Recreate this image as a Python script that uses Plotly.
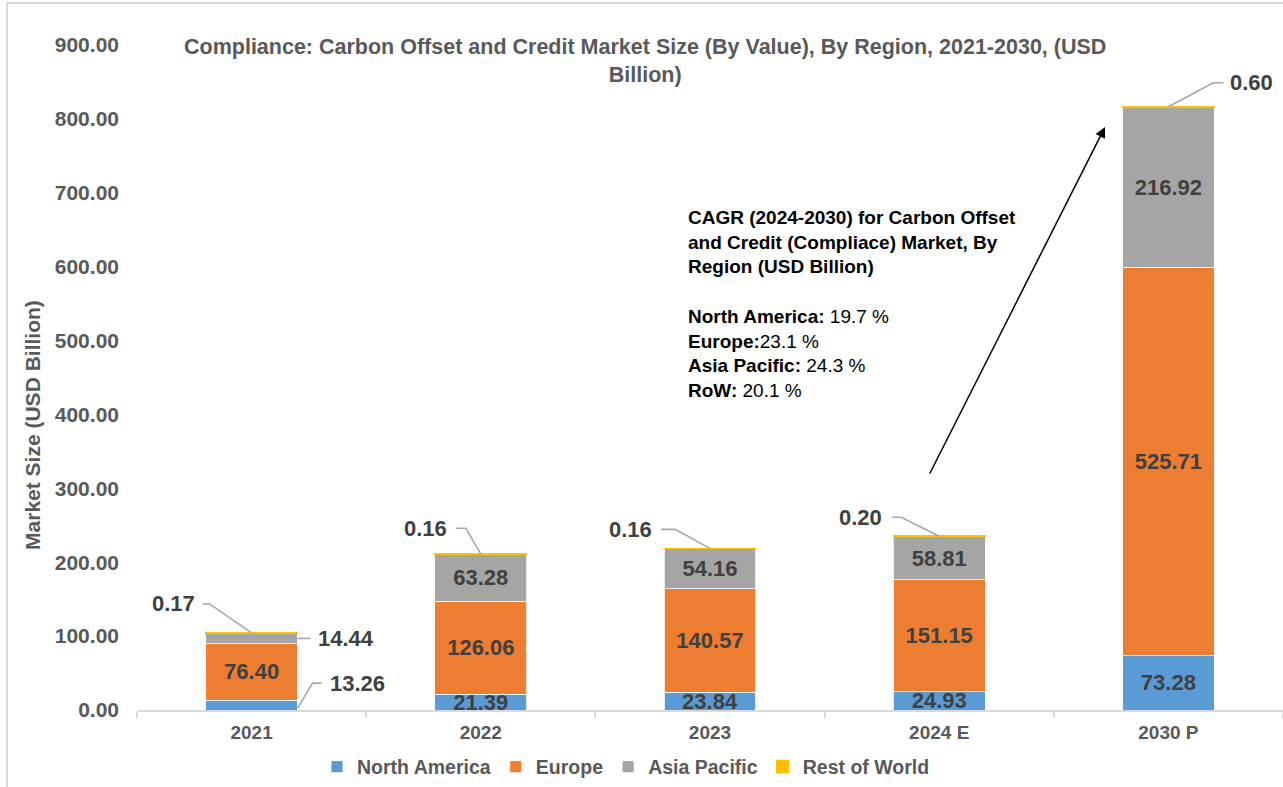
import plotly.graph_objects as go

# ---------------- data ----------------
years = ["2021", "2022", "2023", "2024 E", "2030 P"]
north_america = [13.26, 21.39, 23.84, 24.93, 73.28]
europe = [76.40, 126.06, 140.57, 151.15, 525.71]
asia_pacific = [14.44, 63.28, 54.16, 58.81, 216.92]
rest_of_world = [0.17, 0.16, 0.16, 0.20, 0.60]
series_names = ["North America", "Europe", "Asia Pacific", "Rest of World"]
y_ticks = [0, 100, 200, 300, 400, 500, 600, 700, 800, 900]

title_text = ("Compliance: Carbon Offset and Credit Market Size (By Value), By Region, 2021-2030, (USD"
              "<br>Billion)")
cagr_text = ("<b>CAGR (2024-2030) for Carbon Offset<br>and Credit (Compliace) Market, By<br>"
             "Region (USD Billion)</b><br> <br>"
             "<b>North America:</b> 19.7 %<br><b>Europe:</b>23.1 %<br>"
             "<b>Asia Pacific:</b> 24.3 %<br><b>RoW:</b> 20.1 %")

# ---------------- style ----------------
colors = ["#5B9BD5", "#ED7D31", "#A5A5A5", "#FFC000"]
outline = ["white", "white", "white", "#FFC000"]
outline_w = [0.8, 0.8, 0.8, 1.6]
FONT = "Liberation Sans, Arial, sans-serif"
GREY_TXT = "#595959"
LBL_TXT = "#404040"
LEADER = "#A6A6A6"
LBL_SIZE = 22

fig = go.Figure()

series = [north_america, europe, asia_pacific, rest_of_world]
# which points get an inside label (others are labelled outside with leader lines)
inside_flags = [
    [False, True, True, True, True],
    [True, True, True, True, True],
    [False, True, True, True, True],
    [False, False, False, False, False],
]
for name, vals, col, lc, lw, flags in zip(series_names, series, colors, outline, outline_w, inside_flags):
    fig.add_trace(go.Bar(
        name=name, x=years, y=vals,
        marker=dict(color=col, line=dict(color=lc, width=lw)),
        text=[f"{v:.2f}" if f else "" for v, f in zip(vals, flags)],
        textposition="inside", insidetextanchor="middle",
        constraintext="none", textangle=0, cliponaxis=False,
        textfont=dict(family=FONT, size=LBL_SIZE, color=LBL_TXT, weight="bold"),
        hoverinfo="skip",
    ))

totals = [a + b + c + d for a, b, c, d in zip(north_america, europe, asia_pacific, rest_of_world)]

shapes = []
annotations = []


def leader(xi, yval, path, tx, ty, txt, anchor):
    shapes.append(dict(
        type="path", xref="x", yref="y", xsizemode="pixel", ysizemode="pixel",
        xanchor=xi, yanchor=yval, path=path,
        line=dict(color=LEADER, width=1.6), layer="above",
    ))
    annotations.append(dict(
        x=xi, y=yval, xref="x", yref="y", text=txt, showarrow=False,
        xshift=tx, yshift=ty, xanchor=anchor, yanchor="middle",
        font=dict(family=FONT, size=LBL_SIZE, color=LBL_TXT, weight="bold"),
    ))


# Rest of World leaders (anchored at bar tops)
row_geom = [
    ("M 0 0 L -42 29 L -49 29", -55, 29, "right"),
    ("M 0 0 L -15 26 L -25 26", -32, 26, "right"),
    ("M 0 0 L -35 19 L -49 19", -56, 19, "right"),
    ("M 0 0 L -38 19 L -47 19", -55, 19, "right"),
    ("M 0 0 L 45 24 L 55 24", 60, 24, "left"),
]
for i, (p, tx, ty, anc) in enumerate(row_geom):
    leader(i, totals[i], p, tx, ty, f"{rest_of_world[i]:.2f}", anc)

# 2021 Asia Pacific and North America
ap_mid = north_america[0] + europe[0] + asia_pacific[0] / 2
leader(0, ap_mid, "M 46 0 L 59 0", 64, 0, f"{asia_pacific[0]:.2f}", "left")
na_mid = north_america[0] / 2
leader(0, na_mid, "M 46 -3 L 61 22 L 70 22", 76, 22, f"{north_america[0]:.2f}", "left")

# outer border
shapes.append(dict(type="rect", xref="paper", yref="paper",
                   x0=-0.1134, x1=1.02, y0=-0.3, y1=1.0632,
                   line=dict(color="#D9D9D9", width=2), layer="below"))

# title
annotations.append(dict(
    xref="paper", yref="paper", x=0.4433, y=1.0175, xanchor="center", yanchor="top",
    align="center", showarrow=False, text=title_text,
    font=dict(family=FONT, size=21.5, color=GREY_TXT, weight="bold"),
))
# CAGR text block
annotations.append(dict(
    xref="paper", yref="paper", x=0.4790, y=0.7590, xanchor="left", yanchor="top",
    align="left", showarrow=False, text=cagr_text,
    font=dict(family=FONT, size=19, color="#000000"),
))
# big arrow
annotations.append(dict(
    xref="paper", yref="paper", x=0.8447, y=0.8767, text="", showarrow=True,
    ax=-176, ay=348, arrowhead=2, arrowsize=1.4, arrowwidth=1.5, arrowcolor="#000000",
    standoff=0,
))
# y axis title
annotations.append(dict(
    xref="paper", yref="paper", x=-0.0908, y=0.4286, textangle=-90, showarrow=False,
    text="Market Size (USD Billion)", xanchor="center", yanchor="middle",
    font=dict(family=FONT, size=21, color=GREY_TXT, weight="bold"),
))

fig.update_layout(
    width=1283, height=787,
    margin=dict(l=137, r=0, t=45, b=77),
    paper_bgcolor="white", plot_bgcolor="white",
    barmode="stack", bargap=0.6,
    xaxis=dict(
        type="category", categoryorder="array", categoryarray=years,
        range=[-0.5, len(years) - 0.5], autorange=False,
        showgrid=False, showline=True, linecolor="#D9D9D9", linewidth=1.5,
        ticks="outside", tickson="boundaries", ticklen=6, tickcolor="#D9D9D9", tickwidth=1.5,
        tickfont=dict(family=FONT, size=19, color=GREY_TXT, weight="bold"),
        ticklabelstandoff=4,
    ),
    yaxis=dict(
        range=[0, 900], autorange=False, tickvals=y_ticks, tickformat=".2f", showgrid=False,
        showline=False, zeroline=False, ticks="",
        tickfont=dict(family=FONT, size=21, color=GREY_TXT, weight="bold"),
        ticklabelstandoff=17,
    ),
    legend=dict(
        orientation="h", xref="paper", x=0.4267, xanchor="center",
        y=-0.0857, yanchor="middle", traceorder="normal",
        font=dict(family=FONT, size=19.5, color=GREY_TXT, weight="bold"),
        itemwidth=30,
    ),
    shapes=shapes, annotations=annotations,
    showlegend=True,
)

fig.write_html("out.html", config={"displayModeBar": False},
               post_script="document.body.style.margin='0px';")
